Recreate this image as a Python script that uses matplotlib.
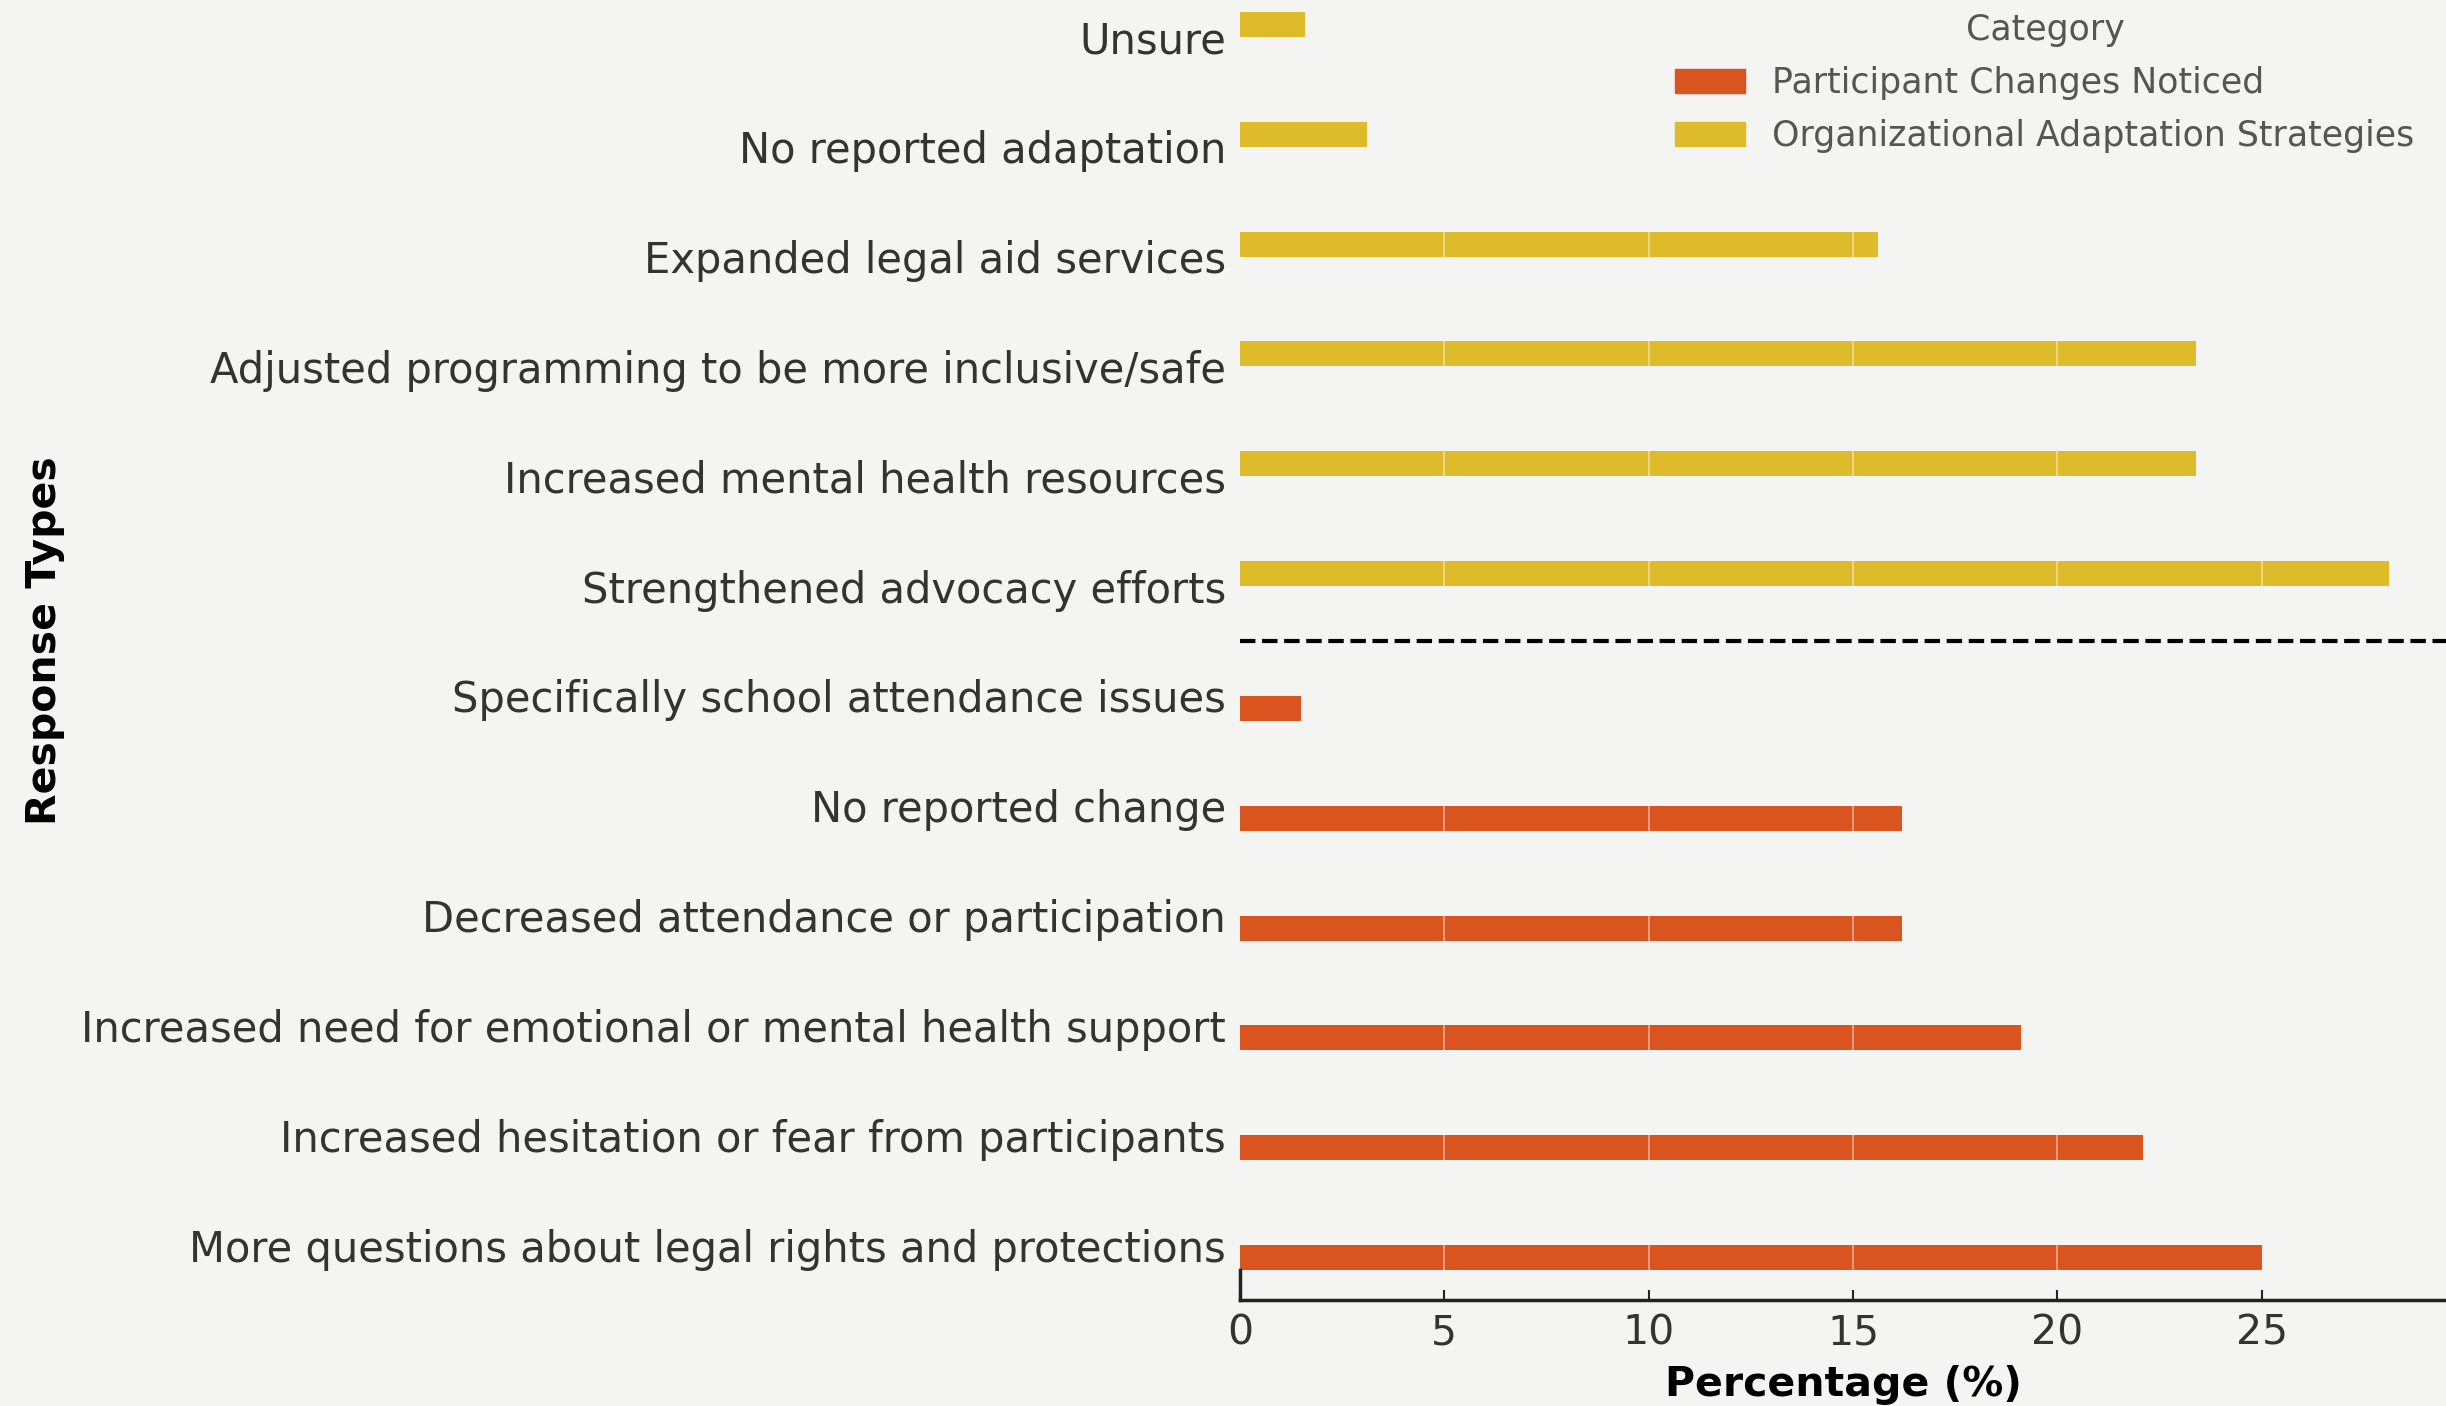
import numpy as np
import matplotlib.pyplot as plt
from matplotlib.patches import Patch

# survey responses, top to bottom
org_labels = [
    "Unsure",
    "No reported adaptation",
    "Expanded legal aid services",
    "Adjusted programming to be more inclusive/safe",
    "Increased mental health resources",
    "Strengthened advocacy efforts",
]
org_values = [1.6, 3.1, 15.6, 23.4, 23.4, 28.1]

part_labels = [
    "Specifically school attendance issues",
    "No reported change",
    "Decreased attendance or participation",
    "Increased need for emotional or mental health support",
    "Increased hesitation or fear from participants",
    "More questions about legal rights and protections",
]
part_values = [1.5, 16.2, 16.2, 19.1, 22.1, 25.0]

series_names = ["Participant Changes Noticed", "Organizational Adaptation Strategies"]
xticks = [0, 5, 10, 15, 20, 25]

ORANGE = "#da5420"
GOLD = "#ddbb2b"
BG = "#f4f4f2"

fig = plt.figure(figsize=(24.46, 14.06), dpi=100)
fig.patch.set_facecolor(BG)
ax = fig.add_axes([1240 / 2446, 106 / 1406, 1206 / 2446, 1318 / 1406])
ax.set_facecolor(BG)

bar_h = 0.227
off = 0.114
n_org = len(org_labels)
y_org = np.arange(n_org) - off
y_part = np.arange(len(part_labels)) + n_org + off

ax.barh(y_org, org_values, height=bar_h, color=GOLD, zorder=2)
ax.barh(y_part, part_values, height=bar_h, color=ORANGE, zorder=2)

# white grid lines, only visible where they cross a bar
for ys, vals in [(y_org, org_values), (y_part, part_values)]:
    for y, v in zip(ys, vals):
        xs = [t for t in xticks if 0 < t < v]
        if xs:
            ax.vlines(xs, y - bar_h / 2, y + bar_h / 2, color="white",
                      linewidth=1.2, alpha=0.5, zorder=3)

# separator between the two groups
ax.axhline(n_org - 0.5, color="black", linestyle="--", linewidth=3, zorder=4)

ax.set_yticks(np.arange(n_org + len(part_labels)))
ax.set_yticklabels(org_labels + part_labels)
ax.set_ylim(n_org + len(part_labels) - 0.5, -0.5)
ax.set_xlim(0, max(org_values) * 1.05)
ax.set_xticks(xticks)

for s in ["top", "right"]:
    ax.spines[s].set_visible(False)
ax.spines["bottom"].set_linewidth(2.5)
ax.spines["bottom"].set_color("#222222")
ax.spines["left"].set_linewidth(2.5)
ax.spines["left"].set_color("#222222")
ax.spines["left"].set_bounds(11 + off + bar_h / 2, 11.5)

ax.tick_params(axis="y", length=0, pad=10, labelsize=30, labelcolor="#333333")
ax.tick_params(axis="x", direction="in", length=7, width=1.5, color="#222222",
               pad=10, labelsize=29.5, labelcolor="#333333")

ax.set_xlabel("Percentage (%)", fontsize=29.5, fontweight="bold", labelpad=8)
ax.set_ylabel("Response Types", fontsize=29.5, fontweight="bold")
ax.yaxis.set_label_coords(-1175 / 1206, 0.5)

handles = [Patch(color=ORANGE), Patch(color=GOLD)]
leg = ax.legend(handles, series_names, title="Category", loc="upper right",
                frameon=False, fontsize=25, title_fontsize=25, labelspacing=0.55)
for t in leg.get_texts():
    t.set_color("#555555")
leg.get_title().set_color("#555555")

fig.savefig("out.png", dpi=100, facecolor=BG)
